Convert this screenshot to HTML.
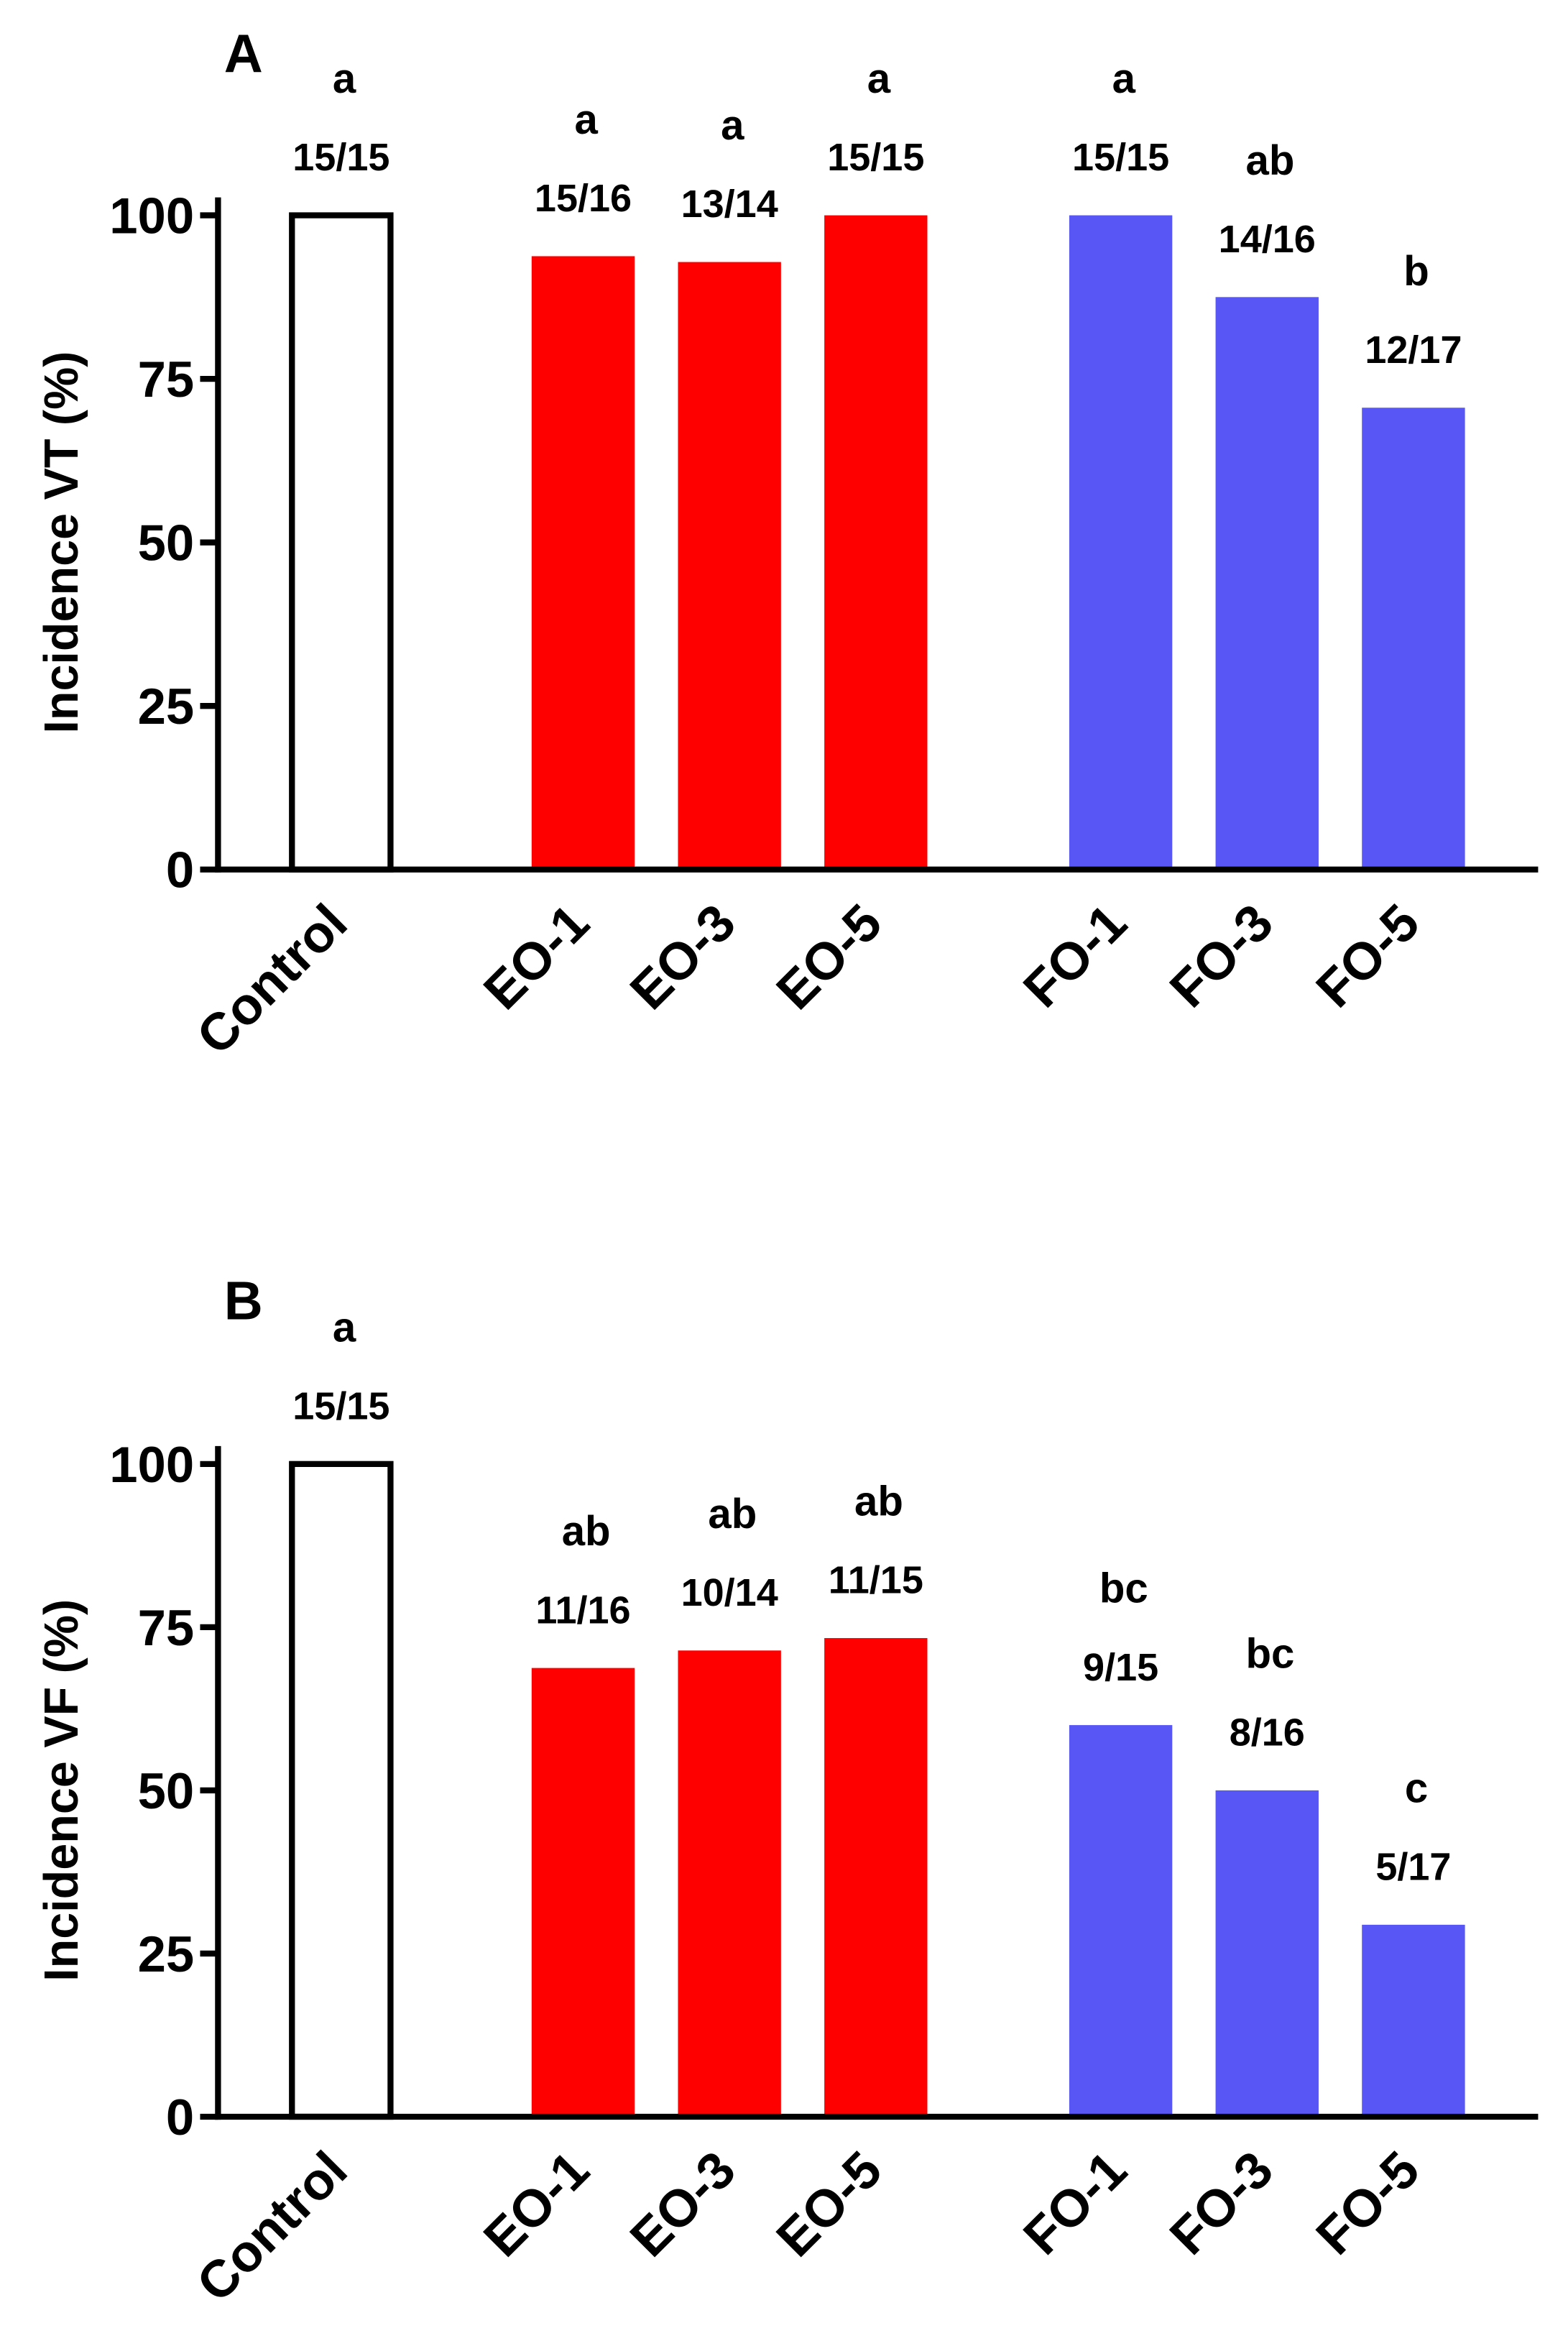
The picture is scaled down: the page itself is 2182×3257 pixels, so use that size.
<!DOCTYPE html>
<html><head><meta charset="utf-8"><style>html,body{margin:0;padding:0;background:#fff}svg{display:block}text{font-family:"Liberation Sans",sans-serif;font-weight:bold;fill:#000}</style></head>
<body>
<svg id="chart" width="2182" height="3257" viewBox="0 0 1050 1567" xmlns="http://www.w3.org/2000/svg"></svg>
<script>
const categories = ["Control","EO-1","EO-3","EO-5","FO-1","FO-3","FO-5"];
const vtValues = [100, 93.75, 92.86, 100, 100, 87.5, 70.59];
const vtFractions = ["15/15","15/16","13/14","15/15","15/15","14/16","12/17"];
const vtLetters = ["a","a","a","a","a","ab","b"];
const vfValues = [100, 68.75, 71.43, 73.33, 60, 50, 29.41];
const vfFractions = ["15/15","11/16","10/14","11/15","9/15","8/16","5/17"];
const vfLetters = ["a","ab","ab","ab","bc","bc","c"];
const yTicks = [0,25,50,75,100];
const colors = ["#fff","#ff0000","#ff0000","#ff0000","#5856f5","#5856f5","#5856f5"];
const barLeft = [194,356,454,552,716,814,912];
const svg = document.getElementById('chart');
const NS = "http://www.w3.org/2000/svg";
function mk(tag, attrs, txt){const e=document.createElementNS(NS,tag);for(const k in attrs)e.setAttribute(k,attrs[k]);if(txt!==undefined)e.textContent=txt;svg.appendChild(e);return e;}
function panel(id, base, top100, values, fracs, letters, title, letter, letterY){
  const y = v => base - (base-top100)*v/100;
  const g = mk('g',{});
  
  
  const pl = mk('text',{x:150,y:letterY,'font-size':36,'text-anchor':'start'},letter);
  
  
  values.forEach((v,i)=>{
    const w=69, x=barLeft[i], t=y(v);
    const r = mk('rect',{x:x+(i==0?1.5:0),y:t,width:i==0?w-3:w,height:base-t,fill:colors[i],stroke:i==0?'#000':'none','stroke-width':i==0?4:0});
    
    
    const cx = x+w/2;
    const f = mk('text',{x:cx,y:t-30,'font-size':26,'text-anchor':'middle'},fracs[i]);
    
    
    const l = mk('text',{x:cx+2,y:t-82,'font-size':28,'text-anchor':'middle'},letters[i]);
    
    
    const ax = cx+6, ay = base+38;
    const c = mk('text',{x:ax,y:ay,'font-size':35,'text-anchor':'end',transform:`rotate(-45 ${ax} ${ay})`},categories[i]);
    
    
  });
  const ya = mk('line',{x1:146,y1:top100-12,x2:146,y2:base+2,stroke:'#000','stroke-width':4});
  
  
  const xa = mk('line',{x1:144,y1:base,x2:1030,y2:base,stroke:'#000','stroke-width':4});
  
  
  yTicks.forEach(t=>{
    const tk = mk('line',{x1:134,y1:y(t),x2:146,y2:y(t),stroke:'#000','stroke-width':4});
    
    
    const tl = mk('text',{x:130,y:y(t)+12,'font-size':34,'text-anchor':'end'},String(t));
    
    
  });
  const my=(base+top100)/2;
  const yt = mk('text',{x:52,y:my,'font-size':32,'text-anchor':'middle',transform:`rotate(-90 52 ${my})`},title);
  
  
}
panel('vt',582,144,vtValues,vtFractions,vtLetters,'Incidence VT (%)','A',48);
panel('vf',1417,980,vfValues,vfFractions,vfLetters,'Incidence VF (%)','B',883);
</script>
</body></html>
